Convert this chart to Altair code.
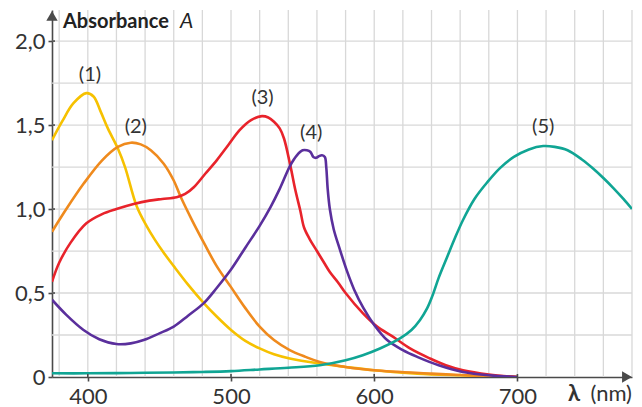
import altair as alt
import pandas as pd

# Absorption spectra of five dyes: wavelength (nm) and absorbance A
wl1 = [375, 382, 390, 399, 404, 409, 414, 421, 426, 434, 441, 447, 453, 460, 470, 481, 490, 500, 510, 520, 530, 541, 562, 580, 600, 630, 660, 700]
a1 = [1.41, 1.52, 1.63, 1.69, 1.67, 1.58, 1.48, 1.36, 1.25, 1.02, 0.9, 0.815, 0.74, 0.66, 0.55, 0.44, 0.36, 0.28, 0.215, 0.17, 0.135, 0.11, 0.08, 0.06, 0.04, 0.02, 0.01, 0.0]

wl2 = [375, 385, 397, 410, 421, 430, 437, 444, 453, 460, 465, 473, 481, 490, 500, 510, 520, 530, 541, 552, 562, 580, 600, 640, 670, 700]
a2 = [0.865, 1.0, 1.15, 1.29, 1.37, 1.395, 1.385, 1.35, 1.27, 1.17, 1.07, 0.93, 0.8, 0.66, 0.535, 0.41, 0.3, 0.22, 0.16, 0.12, 0.09, 0.06, 0.04, 0.02, 0.008, 0.0]

wl3 = [375, 380, 388, 399, 410, 420, 432, 443, 452, 462, 468, 474, 482, 490, 498, 506, 514, 521.6, 526, 530, 534, 537, 541.4, 545, 548.4, 551, 555, 560, 565, 569, 575, 580, 592, 602, 613, 625, 639, 650, 662, 680, 700]
a3 = [0.567, 0.68, 0.8, 0.915, 0.97, 1.0, 1.03, 1.05, 1.06, 1.07, 1.09, 1.13, 1.21, 1.29, 1.38, 1.47, 1.53, 1.553, 1.545, 1.52, 1.48, 1.42, 1.26, 1.11, 0.99, 0.89, 0.82, 0.75, 0.68, 0.625, 0.56, 0.5, 0.38, 0.3, 0.24, 0.17, 0.11, 0.07, 0.04, 0.015, 0.0]

wl4 = [375, 385, 397, 408, 420, 430, 439, 450, 460, 470, 481, 490, 500, 510, 520, 527.5, 534, 541.4, 546, 550, 553, 555.5, 557.5, 559.5, 561.5, 563.5, 565.5, 566.5, 567.5, 569, 571.7, 576, 581, 586, 592.5, 600, 609, 620, 630, 645, 662, 680, 700]
a4 = [0.46, 0.37, 0.28, 0.225, 0.196, 0.2, 0.22, 0.26, 0.3, 0.365, 0.44, 0.53, 0.64, 0.77, 0.9, 1.01, 1.12, 1.26, 1.32, 1.35, 1.35, 1.34, 1.31, 1.305, 1.315, 1.32, 1.31, 1.25, 1.12, 1.0, 0.88, 0.76, 0.63, 0.52, 0.41, 0.31, 0.22, 0.16, 0.12, 0.07, 0.03, 0.01, 0.0]

wl5 = [375, 400, 430, 460, 480, 500, 520, 540, 562, 580, 592, 604, 618, 626, 632, 637, 640.5, 645, 651, 656, 662, 670, 679, 688, 697.5, 708, 718, 726, 735, 745, 753, 760, 767, 774, 780]
a5 = [0.022, 0.022, 0.024, 0.027, 0.03, 0.035, 0.045, 0.055, 0.07, 0.1, 0.13, 0.17, 0.23, 0.28, 0.34, 0.41, 0.48, 0.59, 0.716, 0.82, 0.935, 1.06, 1.16, 1.245, 1.31, 1.355, 1.375, 1.37, 1.35, 1.295, 1.24, 1.185, 1.125, 1.06, 1.0]

names = ["1", "2", "3", "4", "5"]
colors = ["#f6c100", "#ef8a1d", "#e8232b", "#5a2f9c", "#10a594"]

label_text = ["(1)", "(2)", "(3)", "(4)", "(5)"]
label_wl = [401.5, 433.5, 522, 556, 718]
label_a = [1.8, 1.49, 1.66, 1.45, 1.49]

x_ticks = [400, 500, 600, 700]
y_ticks = [0, 0.5, 1.0, 1.5, 2.0]
grid_x = list(range(380, 781, 20))
grid_y = [0.25, 0.5, 0.75, 1.0, 1.25, 1.5, 1.75, 2.0]

W, H = 580, 367
FONT = "Lato"
AXIS_COLOR = "#4a4a4a"

rows = []
for name, wls, vals in zip(names, [wl1, wl2, wl3, wl4, wl5], [a1, a2, a3, a4, a5]):
    for w, a in zip(wls, vals):
        rows.append({"curve": name, "wl": w, "A": a})
spectra = pd.DataFrame(rows)

xscale = alt.Scale(domain=[375, 780], nice=False, zero=False)
yscale = alt.Scale(domain=[0, 2.185], nice=False)

# one axis definition per channel, repeated in every layer so they merge
xaxis = alt.Axis(values=x_ticks, title=None, format="d", labelPadding=5,
                 labelBaseline="top", grid=False)
yaxis = alt.Axis(values=y_ticks, title=None, labelPadding=3, grid=False,
                 labelExpr="datum.value == 0 ? '0' : replace(format(datum.value, '.1f'), '.', ',')")

vgrid = alt.Chart(pd.DataFrame({"wl": grid_x})).mark_rule(
    color="#d8d8d8", strokeWidth=1.3
).encode(
    x=alt.X("wl:Q", scale=xscale, axis=xaxis),
    y=alt.value(0), y2=alt.value(H),
)

hgrid = alt.Chart(pd.DataFrame({"A": grid_y})).mark_rule(
    color="#d8d8d8", strokeWidth=1.3
).encode(
    y=alt.Y("A:Q", scale=yscale, axis=yaxis),
    x=alt.value(0), x2=alt.value(W),
)

lines = alt.Chart(spectra).mark_line(
    interpolate="catmull-rom", strokeWidth=2.6, clip=True
).encode(
    x=alt.X("wl:Q", scale=xscale, axis=xaxis),
    y=alt.Y("A:Q", scale=yscale, axis=yaxis),
    color=alt.Color("curve:N", scale=alt.Scale(domain=names, range=colors), legend=None),
)

# inner halves of the crossing tick marks
xtick_in = alt.Chart(pd.DataFrame({"wl": x_ticks})).mark_rule(
    color=AXIS_COLOR, strokeWidth=1.6
).encode(x=alt.X("wl:Q", scale=xscale, axis=xaxis), y=alt.value(H - 3), y2=alt.value(H))

ytick_in = alt.Chart(pd.DataFrame({"A": y_ticks[1:]})).mark_rule(
    color=AXIS_COLOR, strokeWidth=1.6
).encode(y=alt.Y("A:Q", scale=yscale, axis=yaxis), x=alt.value(0), x2=alt.value(3))

labels = alt.Chart(pd.DataFrame({"txt": label_text, "wl": label_wl, "A": label_a})).mark_text(
    font=FONT, fontSize=20, color="#333333"
).encode(
    x=alt.X("wl:Q", scale=xscale, axis=xaxis),
    y=alt.Y("A:Q", scale=yscale, axis=yaxis),
    text="txt:N",
)

arrows = alt.Chart(pd.DataFrame({
    "wl": [375, 776.5], "A": [2.15, 0], "shape": ["triangle-up", "triangle-right"]
})).mark_point(filled=True, size=130, color=AXIS_COLOR, opacity=1).encode(
    x=alt.X("wl:Q", scale=xscale, axis=xaxis),
    y=alt.Y("A:Q", scale=yscale, axis=yaxis),
    shape=alt.Shape("shape:N", scale=None),
)

one = pd.DataFrame({"k": [0]})

title_abs = alt.Chart(one).mark_text(
    text="Absorbance", font=FONT, fontSize=20, fontWeight="bold",
    color="#222222", align="left", baseline="alphabetic"
).encode(x=alt.value(11), y=alt.value(18))

title_a = alt.Chart(one).mark_text(
    text="A", font=FONT, fontSize=21, fontStyle="italic",
    color="#222222", align="left", baseline="alphabetic"
).encode(x=alt.value(128), y=alt.value(18))

title_lambda = alt.Chart(one).mark_text(
    text="λ", font=FONT, fontSize=22, fontWeight="bold",
    color="#333333", align="right", baseline="alphabetic"
).encode(x=alt.value(528), y=alt.value(391))

title_nm = alt.Chart(one).mark_text(
    text="(nm)", font=FONT, fontSize=22,
    color="#333333", align="right", baseline="alphabetic"
).encode(x=alt.value(580), y=alt.value(391))

chart = alt.layer(
    vgrid, hgrid, lines, xtick_in, ytick_in, labels, arrows,
    title_abs, title_a, title_lambda, title_nm,
).properties(
    width=W, height=H,
    padding={"left": 52, "top": 10, "right": 10, "bottom": 30},
    autosize=alt.AutoSizeParams(type="none"),
    background="white",
).configure_view(
    stroke=None
).configure_axis(
    labelFont=FONT, labelFontSize=22, labelColor="#333333",
    domainColor=AXIS_COLOR, domainWidth=1.6,
    tickColor=AXIS_COLOR, tickWidth=1.6, tickSize=4,
)

chart.save("out.html", embed_options={"renderer": "svg", "actions": False})
